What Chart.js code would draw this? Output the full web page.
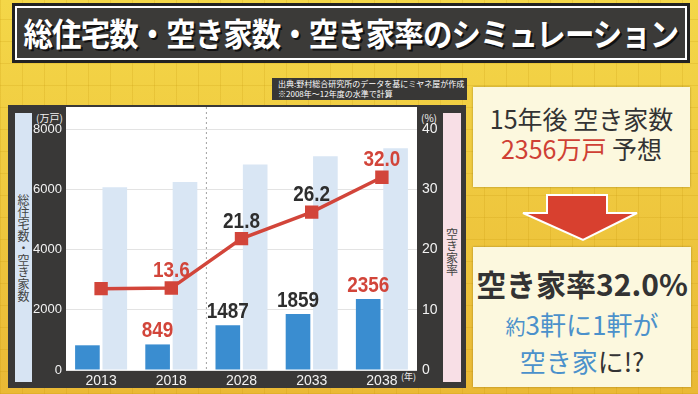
<!DOCTYPE html>
<html>
<head>
<meta charset="utf-8">
<script src="https://cdn.jsdelivr.net/npm/chart.js@4/dist/chart.umd.min.js"></script>
<style>
body{
    margin:0;width:698px;height:394px;overflow:hidden;position:relative;
    font-family:"Noto Sans CJK JP",sans-serif;
    background-color:#f0cd3a;
    background-image:
        repeating-linear-gradient(0deg, rgba(190,140,0,.18) 0 1px, transparent 1px 22px),
        repeating-linear-gradient(90deg, rgba(190,140,0,.18) 0 1px, transparent 1px 22px),
        linear-gradient(#f4d748, #eab935);
}
.abs{position:absolute;}
#title{
    left:12px;top:3px;width:678px;height:60px;box-sizing:border-box;overflow:hidden;
    background:#3b3a38;border:3px solid #222;box-shadow:inset 0 0 0 2px #fff;
    color:#fff;font-size:32px;font-weight:bold;
}
#title span{position:absolute;left:50%;top:50%;white-space:nowrap;line-height:40px;
    transform:translate(-50%,-52%) scaleX(.92);text-shadow:2px 2px 0 #111;letter-spacing:-1px;}
#source{
    left:272px;top:78px;width:195px;height:22px;background:#383736;color:#fff;
    font-size:8px;line-height:10px;padding:1px 0 0 6px;box-sizing:border-box;white-space:nowrap;
}
#frame{left:8px;top:105px;width:458px;height:283px;background:#393837;}
#blueStrip{left:7px;top:8px;width:17px;height:269px;background:#d7e4f3;}
#pinkStrip{left:435px;top:8px;width:18px;height:269px;background:#f8dfe6;}
.vtext{writing-mode:vertical-rl;font-size:12px;color:#444;position:absolute;left:0;right:0;top:0;bottom:0;
    display:flex;align-items:center;justify-content:center;letter-spacing:0;}
#plotBg{left:58px;top:2px;width:351px;height:263px;background:#fff;}
.unit{color:#f2f2f2;font-size:10px;}
#chart{position:absolute;left:8px;top:105px;}
.box{background:#fcf8de;box-shadow:0 0 2px rgba(80,60,0,.45);text-align:center;color:#333;}
#box1{left:473px;top:87px;width:217px;height:100px;}
#box2{left:473px;top:247px;width:218px;height:140px;}
.red{color:#cf4034;}
.blue{color:#4b91cb;}
</style>
</head>
<body>

<div id="title" class="abs"><span>総住宅数・空き家数・空き家率のシミュレーション</span></div>

<div id="source" class="abs">出典:野村総合研究所のデータを基にミヤネ屋が作成<br>※2008年～12年度の水準で計算</div>

<div id="frame" class="abs">
    <div id="blueStrip" class="abs"><div class="vtext">総住宅数・空き家数</div></div>
    <div id="pinkStrip" class="abs"><div class="vtext" style="padding-top:8px;">空き家率</div></div>
    <div id="plotBg" class="abs"></div>
    <div class="abs unit" style="left:28px;top:5px;">(万戸)</div>
    <div class="abs unit" style="left:413px;top:5px;">(%)</div>
    <div class="abs unit" style="left:393px;top:265px;font-size:9px;">(年)</div>
</div>
<canvas id="chart" width="458" height="283"></canvas>

<svg class="abs" style="left:515px;top:190px;" width="130" height="55">
    <polygon points="32,5 92,5 92,23 122,23 68,50 8,23 32,23" fill="#d8402f" stroke="#fff" stroke-width="2"/>
</svg>

<div id="box1" class="abs box">
    <div style="font-size:25px;line-height:30px;margin-top:16px;">15年後 空き家数</div>
    <div style="font-size:25px;line-height:30px;"><span class="red">2356万戸</span> 予想</div>
</div>

<div id="box2" class="abs box">
    <div style="font-size:30px;font-weight:bold;line-height:36px;margin-top:18px;">空き家率32.0%</div>
    <div class="blue" style="font-size:26px;line-height:34px;margin-top:6px;"><span style="font-size:20px;">約</span>3軒に1軒が</div>
    <div style="font-size:26px;line-height:34px;"><span class="blue">空き家</span>に!?</div>
</div>

<script>
const years = ["2013", "2018", "2028", "2033", "2038"];
const totalHouses = [6063, 6243, 6821, 7095, 7362];
const vacantHouses = [820, 849, 1487, 1859, 2356];
const vacancyRate = [13.5, 13.6, 21.8, 26.2, 32.0];
const leftTicks = [0, 2000, 4000, 6000, 8000];
const rightTicks = [0, 10, 20, 30, 40];
const labelled = [1, 2, 3, 4];   // points that carry a value label
const highlighted = [1, 4];      // those drawn in red

const RED = "#d2453a";
const DARK = "#2e2e2e";
const tickFont = { family: "'Liberation Sans', Arial, sans-serif", size: 14 };

// condensed bold text, centred on x
function narrowText(c, text, x, y) {
    c.save();
    c.translate(x, y);
    c.scale(0.86, 1);
    c.fillText(text, 0, 0);
    c.restore();
}

// value labels above bars and line points
const valueLabels = {
    id: "valueLabels",
    afterDatasetsDraw(chart) {
        const c = chart.ctx;
        c.save();
        c.font = "bold 22px 'Liberation Sans', Arial, sans-serif";
        c.textAlign = "center";
        c.textBaseline = "alphabetic";
        chart.getDatasetMeta(1).data.forEach((bar, i) => {
            if (!labelled.includes(i)) return;
            c.fillStyle = highlighted.includes(i) ? RED : DARK;
            narrowText(c, String(vacantHouses[i]), bar.x, bar.y - 7);
        });
        chart.getDatasetMeta(0).data.forEach((pt, i) => {
            if (!labelled.includes(i)) return;
            c.fillStyle = highlighted.includes(i) ? RED : DARK;
            narrowText(c, vacancyRate[i].toFixed(1), pt.x, pt.y - 11);
        });
        c.restore();
    }
};

// dotted divider between actual and projected years
const divider = {
    id: "divider",
    beforeDatasetsDraw(chart) {
        const x = chart.scales.x;
        const px = (x.getPixelForValue(1) + x.getPixelForValue(2)) / 2;
        const c = chart.ctx;
        c.save();
        c.strokeStyle = "#a0a0a0";
        c.lineWidth = 1;
        c.setLineDash([2, 3]);
        c.beginPath();
        c.moveTo(px, 2);
        c.lineTo(px, chart.chartArea.bottom);
        c.stroke();
        c.restore();
    }
};

new Chart(document.getElementById("chart"), {
    data: {
        labels: years,
        datasets: [
        {
            type: "line",
            label: "空き家率",
            data: vacancyRate,
            yAxisID: "y1",
            borderColor: RED,
            backgroundColor: RED,
            borderWidth: 3.5,
            pointStyle: "rect",
            pointRadius: 7,
            pointHoverRadius: 7,
            tension: 0,
            order: 0
        },
        {
            type: "bar",
            label: "空き家数",
            data: vacantHouses,
            yAxisID: "y",
            backgroundColor: "#3a8dd0",
            categoryPercentage: 0.78,
            barPercentage: 0.9,
            order: 1
        },
        {
            type: "bar",
            label: "総住宅数",
            data: totalHouses,
            yAxisID: "y",
            backgroundColor: "#d9e6f4",
            categoryPercentage: 0.78,
            barPercentage: 0.9,
            order: 1
        }]
    },
    options: {
        responsive: false,
        animation: false,
        devicePixelRatio: 1,
        layout: { padding: { top: 24, left: 0, right: 0, bottom: 0 } },
        plugins: {
            legend: { display: false },
            tooltip: { enabled: false }
        },
        scales: {
            x: {
                grid: { display: false, drawTicks: false },
                border: { display: false },
                ticks: { color: "#f2f2f2", font: tickFont, padding: 3 },
                afterFit: s => { s.height = 18; }
            },
            y: {
                position: "left",
                min: 0,
                max: 8000,
                afterBuildTicks: s => { s.ticks = leftTicks.map(v => ({ value: v })); },
                grid: { color: "#e3e3e3", drawTicks: false },
                border: { display: false },
                ticks: { color: "#f2f2f2", font: { family: tickFont.family, size: 13 }, padding: 4, callback: v => String(v) },
                afterFit: s => { s.width = 58; }
            },
            y1: {
                position: "right",
                min: 0,
                max: 40,
                afterBuildTicks: s => { s.ticks = rightTicks.map(v => ({ value: v })); },
                grid: { display: false, drawTicks: false },
                border: { display: false },
                ticks: { color: "#f2f2f2", font: tickFont, padding: 5, callback: v => String(v) },
                afterFit: s => { s.width = 49; }
            }
        }
    },
    plugins: [divider, valueLabels]
});
</script>
</body>
</html>
